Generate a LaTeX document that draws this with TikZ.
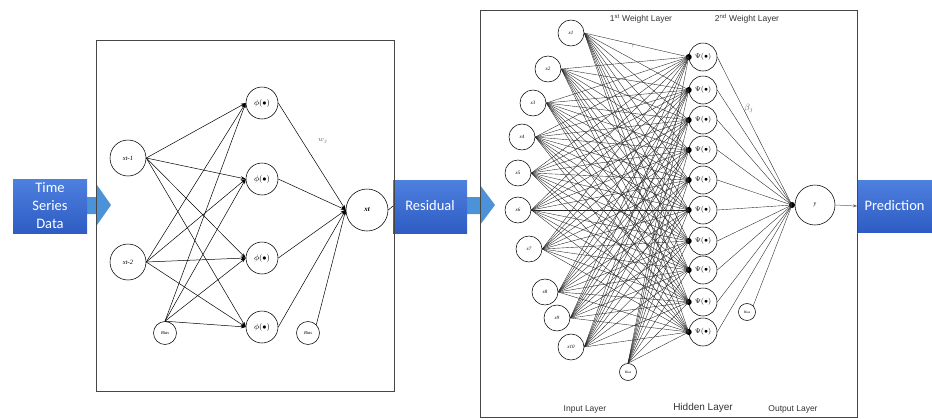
\documentclass[tikz,border=0pt]{standalone}
\usepackage{fontspec}
\setmainfont{Liberation Serif}
\setsansfont{Liberation Sans}
\newfontfamily\flowfont{Carlito}
\usetikzlibrary{arrows.meta}

\definecolor{flowTop}{RGB}{78,128,222}
\definecolor{flowBot}{RGB}{46,92,196}
\definecolor{flowArrow}{RGB}{76,146,216}
\definecolor{panelLine}{RGB}{70,70,70}

\begin{document}
\begin{tikzpicture}[x=1pt,y=-1pt,
  flowbody/.style={top color=flowTop,bottom color=flowBot,draw=none},
  flowhead/.style={fill=flowArrow,draw=none},
  flowtext/.style={font=\flowfont\fontsize{14.5}{18}\selectfont,text=white,align=center},
  panel/.style={draw=panelLine,line width=0.9pt},
  neuron/.style={circle,draw,line width=0.55pt,inner sep=0pt},
  bigneuron/.style={neuron,minimum size=36pt,font=\itshape\fontsize{6.5}{7}\selectfont},
  phineuron/.style={neuron,minimum size=32pt,font=\fontsize{8}{9}\selectfont},
  biasneuron/.style={neuron,minimum size=23pt,font=\itshape\fontsize{4.5}{5}\selectfont},
  inneuron/.style={neuron,minimum size=26pt,font=\itshape\fontsize{5}{6}\selectfont},
  psineuron/.style={neuron,minimum size=28pt,font=\fontsize{7}{8}\selectfont},
  smallbias/.style={neuron,minimum size=17pt,font=\fontsize{3.5}{4}\selectfont},
  dot/.style={circle,fill=black,inner sep=0pt,minimum size=6pt},
  arr/.style={-{Stealth[length=5pt,width=3.5pt]},line width=0.5pt},
  web/.style={black!85,line width=0.38pt},
  layerlabel/.style={font=\sffamily\fontsize{8.5}{10}\selectfont,text=black!80},
  weightlabel/.style={text=black!60}]

\useasboundingbox (0,0) rectangle (932,418);

% ---------- flow blocks ----------
\fill[flowhead] (87,197) -- (97,197) -- (97,185) -- (111,205) -- (97,225) -- (97,214) -- (87,214) -- cycle;
\fill[flowbody] (13,179) rectangle (87,233);
\node[flowtext] (tsd) at (50,206) {Time\\Series\\Data};

\fill[flowhead] (467,197) -- (480,197) -- (480,185) -- (495,205) -- (480,225) -- (480,214) -- (467,214) -- cycle;
\fill[flowbody] (393,180) rectangle (467,233);
\node[flowtext] (res) at (430,206) {Residual};

\fill[flowbody] (857,180) rectangle (945,232);
\node[flowtext,anchor=west] (pred) at (861,206) {Prediction};

% ---------- ARIMA-style network panel ----------
\draw[panel] (96,40) rectangle (394,391);

\node[bigneuron] (xa) at (128,158) {xt-1};
\node[bigneuron] (xb) at (128,262) {xt-2};
\node[biasneuron] (ba) at (165,333) {Bias};
\foreach \i/\y in {1/103,2/179,3/258,4/327}
  \node[phineuron] (h\i) at (262,\y) {$\phi(\bullet)$};
\node[neuron,minimum size=42pt,font=\bfseries\itshape\fontsize{7}{8}\selectfont] (xt) at (367,210) {xt};
\node[biasneuron] (bb) at (308,333) {Bias};

\foreach \i in {1,...,4}{
  \draw[arr] (xa.east) -- (h\i.west);
  \draw[arr] (xb.east) -- (h\i.west);
  \draw[arr] (ba.north) -- (h\i.west);
  \draw[arr] (h\i.east) -- (xt.west);
}
\draw[arr] (bb.north east) -- (xt.west);
\node[weightlabel,font=\itshape\fontsize{7}{8}\selectfont] (wj) at (323,141) {$w_j$};

\draw[line width=0.5pt] (xt.east) -- (res.west -| 393,0);

% ---------- neural network panel ----------
\draw[panel] (480,10) rectangle (857,417);

\foreach \i/\x/\y in {1/571/33,2/548/69,3/533/103,4/522/137,5/518/173,6/518/210,7/529/249,8/545/292,9/557/318,10/571/347}
  \node[inneuron] (in\i) at (\x,\y) {x\i};
\node[smallbias] (bin) at (628,372) {Bias};

\foreach \j/\y in {1/57,2/90,3/120,4/150,5/180,6/210,7/241,8/270,9/302,10/332}{
  \node[psineuron] (p\j) at (703,\y) {$\Psi(\bullet)$};
  \node[dot] (d\j) at (p\j.west) {};
}
\node[dot] (od) at (792,205) {};
\node[neuron,minimum size=40pt,font=\itshape\fontsize{6}{7}\selectfont] (y) at (815,205) {y};
\node[smallbias] (bout) at (747,312) {Bias};

\foreach \i in {1,...,10}
  \foreach \j in {1,...,10}
    \draw[web] (in\i.east) -- (d\j.center);
\foreach \j in {1,...,10}{
  \draw[web] (bin.north) -- (d\j.center);
  \draw[web] (p\j.east) -- (od.center);
}
\draw[web] (bout.north east) -- (od.center);

\draw[-{Stealth[length=4pt,width=3pt]},black!60,line width=0.5pt] (y.east) -- (pred.west -| 857,0);

\node[weightlabel,font=\itshape\fontsize{7}{8}\selectfont] (gij) at (632,46) {$\gamma$};
\node[weightlabel,font=\itshape\fontsize{9}{10}\selectfont] (bj) at (749,108) {$\beta_j$};

\node[layerlabel] (wl1) at (641,19) {1\textsuperscript{st} Weight Layer};
\node[layerlabel] (wl2) at (747,19) {2\textsuperscript{nd} Weight Layer};
\node[layerlabel] (il) at (585,409) {Input Layer};
\node[layerlabel,font=\sffamily\fontsize{10}{11}\selectfont] (hl) at (703,408) {Hidden Layer};
\node[layerlabel] (ol) at (793,409) {Output Layer};
\end{tikzpicture}
\end{document}
